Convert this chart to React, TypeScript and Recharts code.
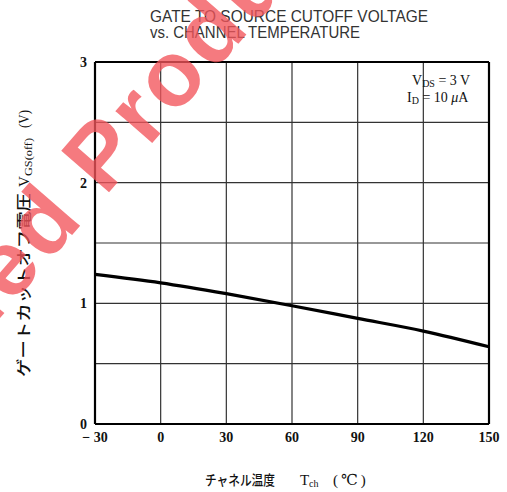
import { CartesianGrid, Line, LineChart, ReferenceLine, XAxis, YAxis } from "recharts";

const temps = [-30, 0, 30, 60, 90, 120, 150];
const vgsOff = [1.24, 1.17, 1.08, 0.98, 0.875, 0.77, 0.64];
const xTicks = [-30, 0, 30, 60, 90, 120, 150];
const yTicks = [0, 0.5, 1, 1.5, 2, 2.5, 3];

const data = temps.map((t, i) => ({ t, v: vgsOff[i] }));

const W = 507;
const H = 492;
const serif = "'Liberation Serif', 'DejaVu Serif', serif";
const sans = "'Liberation Sans', Arial, sans-serif";
const jp = "'Noto Sans CJK JP', sans-serif";

function Overlay() {
  return (
    <svg width={W} height={H} style={{ position: "absolute", left: 0, top: 0, pointerEvents: "none" }}>
      <text x={150} y={22} fontFamily={sans} fontSize={16} fill="#333" textLength={278} lengthAdjust="spacingAndGlyphs">
        GATE  TO  SOURCE  CUTOFF  VOLTAGE
      </text>
      <text x={150} y={38} fontFamily={sans} fontSize={16} fill="#333" textLength={210} lengthAdjust="spacingAndGlyphs">
        vs. CHANNEL  TEMPERATURE
      </text>

      <text x={412} y={85} fontFamily={serif} fontSize={14} fill="#111">
        V<tspan fontSize={10} dy={2}>DS</tspan><tspan dy={-2}> = 3 V</tspan>
      </text>
      <text x={407} y={102} fontFamily={serif} fontSize={14} fill="#111">
        I<tspan fontSize={10} dy={2}>D</tspan><tspan dy={-2}> = 10 </tspan><tspan fontStyle="italic">μ</tspan>A
      </text>

      {/* y axis title, rotated */}
      <g transform="translate(29,0) rotate(-90)" fill="#111">
        <text x={-377} y={0} fontFamily={jp} fontSize={15} fontWeight={500} textLength={184} lengthAdjust="spacingAndGlyphs">ゲートカットオフ電圧</text>
        <text x={-187} y={0} fontFamily={serif} fontSize={15}>V</text>
        <text x={-176} y={3} fontFamily={serif} fontSize={10} textLength={38} lengthAdjust="spacingAndGlyphs">GS(off)</text>
        <text x={-128} y={0} fontFamily={serif} fontSize={15} textLength={18} lengthAdjust="spacingAndGlyphs">(V)</text>
      </g>

      <g fill="#111">
        <text x={205} y={485} fontFamily={jp} fontSize={14} fontWeight={500} textLength={70} lengthAdjust="spacingAndGlyphs">チャネル温度</text>
        <text x={300} y={485} fontFamily={serif} fontSize={15}>T</text>
        <text x={309} y={487} fontFamily={serif} fontSize={10}>ch</text>
        <text x={333} y={485} fontFamily={serif} fontSize={15} letterSpacing={3}>(℃)</text>
      </g>

      {/* watermark */}
      <g transform="translate(105,197) rotate(-49)" fill="#f2545b" fillOpacity={0.78} fontFamily={sans} fontWeight="bold" fontSize={92} letterSpacing={4}>
        <text x={-28} y={0} textAnchor="end">Discontinued</text>
        <text x={0} y={0} textAnchor="start">Product</text>
      </g>
    </svg>
  );
}

export default function App() {
  return (
    <div style={{ position: "absolute", left: 0, top: 0, width: W, height: H, background: "#fff" }}>
      <LineChart width={W} height={H} data={data} margin={{ top: 62, right: 18, left: 65, bottom: 38 }}>
        <CartesianGrid stroke="#333" strokeWidth={1.2} />
        <XAxis dataKey="t" type="number" domain={[-30, 150]} ticks={xTicks} height={30}
          axisLine={false} tickLine={false} tickSize={0} tickMargin={8}
          tickFormatter={(v: number) => (v < 0 ? `− ${Math.abs(v)}` : `${v}`)}
          tick={{ fill: "#111", fontSize: 14, fontFamily: serif, fontWeight: "bold" }} />
        <YAxis type="number" domain={[0, 3]} ticks={yTicks} width={30}
          axisLine={false} tickLine={false} tickSize={0} tickMargin={8}
          tickFormatter={(v: number) => (Number.isInteger(v) ? `${v}` : "")}
          tick={{ fill: "#111", fontSize: 14, fontFamily: serif, fontWeight: "bold" }} />
        <ReferenceLine y={0} stroke="#000" strokeWidth={2.2} />
        <ReferenceLine y={3} stroke="#000" strokeWidth={2.2} />
        <ReferenceLine x={-30} stroke="#000" strokeWidth={2.2} />
        <ReferenceLine x={150} stroke="#000" strokeWidth={2.2} />
        <Line type="monotone" dataKey="v" stroke="#000" strokeWidth={3.2} dot={false} isAnimationActive={false} />
      </LineChart>
      <Overlay />
    </div>
  );
}
